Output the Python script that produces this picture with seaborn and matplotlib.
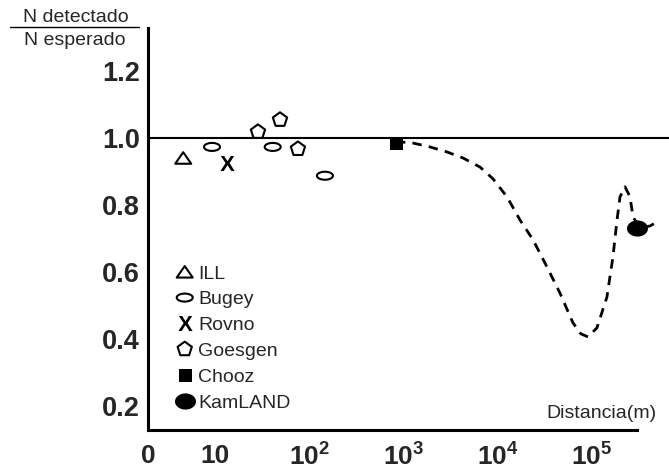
import numpy as np
import pandas as pd
import matplotlib
matplotlib.use("Agg")
import matplotlib.pyplot as plt
from matplotlib.path import Path
import seaborn as sns

# ---------------- data ----------------
experiments = ["ILL", "Bugey", "Rovno", "Goesgen", "Chooz", "KamLAND"]
ill_x, ill_y = [4.6], [0.94]
bugey_x, bugey_y = [9.3, 41, 147], [0.973, 0.973, 0.887]
rovno_x, rovno_y = [13.4], [0.925]
goesgen_x, goesgen_y = [28.6, 49, 76], [1.018, 1.054, 0.967]
chooz_x, chooz_y = [834], [0.985]
kamland_x, kamland_y = [302000], [0.731]

curve_x = [834, 1119, 1914, 2904, 4295, 6501, 8933, 12590, 17300, 23770,
           33420, 45920, 63100, 76740, 91200, 113500, 144900, 167900,
           185400, 199500, 225400, 254700, 274200, 325100, 415000, 492000]
curve_y = [0.985, 0.988, 0.973, 0.958, 0.940, 0.913, 0.878, 0.824, 0.755,
           0.696, 0.615, 0.537, 0.448, 0.415, 0.406, 0.433, 0.525, 0.645,
           0.755, 0.824, 0.854, 0.824, 0.764, 0.731, 0.737, 0.749]

y_ticks = [0.2, 0.4, 0.6, 0.8, 1.0, 1.2]
y_tick_labels = ["0.2", "0.4", "0.6", "0.8", "1.0", "1.2"]
x_tick_labels = ["0", "10", r"$\mathbf{10^{2}}$", r"$\mathbf{10^{3}}$",
                 r"$\mathbf{10^{4}}$", r"$\mathbf{10^{5}}$"]

# ---------------- style ----------------
sns.set_style("white")
plt.rcParams["font.family"] = ["Liberation Sans", "DejaVu Sans"]
plt.rcParams["mathtext.fontset"] = "custom"
plt.rcParams["mathtext.rm"] = "Liberation Sans"
plt.rcParams["mathtext.bf"] = "Liberation Sans:bold"
plt.rcParams["mathtext.it"] = "Liberation Sans:italic"

W, H = 669, 474
fig = plt.figure(figsize=(W / 100, H / 100), dpi=100)
ax = fig.add_axes([148 / W, 44 / H, 1 - 148 / W, (430 - 28) / H])

xmin, xmax = 10 ** 0.289, 10 ** 5.82
ax.set_xscale("log")
ax.set_xlim(xmin, xmax)
ax.set_ylim(0.128, 1.328)

# custom markers
t = np.linspace(0, 2 * np.pi, 80)
ellipse_open = Path(np.c_[0.5 * np.cos(t), 0.25 * np.sin(t)], closed=True)
ellipse_fill = Path(np.c_[0.5 * np.cos(t), 0.385 * np.sin(t)], closed=True)
tri = Path([(-0.5, -0.36), (0.5, -0.36), (0.0, 0.36), (-0.5, -0.36)], closed=True)

pt = lambda px: px * 0.72  # pixel -> point

# reference line at 1.0
ax.axhline(1.0, color="black", lw=1.5, zorder=1)

# dashed oscillation curve
curve = pd.DataFrame({"x": curve_x, "y": curve_y})
sns.lineplot(data=curve, x="x", y="y", ax=ax, color="black", lw=2.0,
             dashes=False, sort=False, zorder=2, estimator=None)
ax.lines[-1].set_dashes((3.4, 2.6))

def pts(xs, ys):
    return pd.DataFrame({"x": xs, "y": ys})

open_kw = dict(facecolor="none", edgecolor="black", linewidth=1.5, zorder=3)
sns.scatterplot(data=pts(ill_x, ill_y), x="x", y="y", ax=ax, marker=tri,
                s=pt(16) ** 2, label="ILL", **open_kw)
sns.scatterplot(data=pts(bugey_x, bugey_y), x="x", y="y", ax=ax,
                marker=ellipse_open, s=pt(16) ** 2, label="Bugey", **open_kw)
sns.scatterplot(data=pts(rovno_x, rovno_y), x="x", y="y", ax=ax,
                marker=r"$\mathbf{X}$", s=pt(15) ** 2, color="black",
                linewidth=0, label="Rovno", zorder=3)
sns.scatterplot(data=pts(goesgen_x, goesgen_y), x="x", y="y", ax=ax,
                marker="p", s=pt(15) ** 2, label="Goesgen", **open_kw)
sns.scatterplot(data=pts(chooz_x, chooz_y), x="x", y="y", ax=ax,
                marker="s", s=pt(13) ** 2, color="black", linewidth=0,
                label="Chooz", zorder=4)
sns.scatterplot(data=pts(kamland_x, kamland_y), x="x", y="y", ax=ax,
                marker=ellipse_fill, s=pt(21) ** 2, color="black",
                linewidth=0, label="KamLAND", zorder=4)

# axes decoration
ax.set_xlabel("")
ax.set_ylabel("")
for s in ["top", "right"]:
    ax.spines[s].set_visible(False)
ax.spines["left"].set_linewidth(2.2)
ax.spines["bottom"].set_linewidth(2.2)
ax.spines["left"].set_color("black")
ax.spines["bottom"].set_color("black")
ax.spines["bottom"].set_bounds(xmin, 10 ** 5.48)

ax.set_yticks(y_ticks)
ax.set_yticklabels(y_tick_labels, fontsize=19.5, fontweight="bold")
ax.set_xticks([xmin, 10, 100, 1e3, 1e4, 1e5])
ax.set_xticklabels(x_tick_labels, fontsize=19, fontweight="bold")
ax.xaxis.set_minor_locator(matplotlib.ticker.NullLocator())
ax.tick_params(axis="y", length=0, pad=6)
ax.tick_params(axis="x", length=0, pad=10)

# legend
leg = ax.legend(loc="upper left", bbox_to_anchor=(175 / W, (H - 265) / H),
                bbox_transform=fig.transFigure, frameon=False, fontsize=14,
                handlelength=1.0, handletextpad=0.2, labelspacing=0.42,
                borderpad=0, borderaxespad=0, scatteryoffsets=[0.5])

# texts
fig.text(657 / W, (H - 418) / H, "Distancia(m)", ha="right", va="baseline",
         fontsize=14)
fig.text(76 / W, (H - 22) / H, "N detectado", ha="center", va="baseline",
         fontsize=14)
fig.text(75 / W, (H - 45) / H, "N esperado", ha="center", va="baseline",
         fontsize=14)
fig.add_artist(plt.Line2D([10 / W, 139 / W], [(H - 27) / H] * 2,
                          color="black", lw=1.0, transform=fig.transFigure))

fig.savefig("out.png", dpi=100)
